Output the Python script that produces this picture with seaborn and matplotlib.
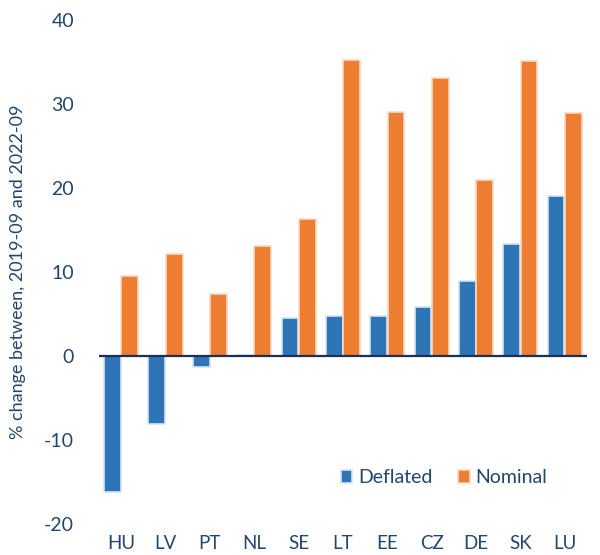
import pandas as pd
import matplotlib
matplotlib.use("Agg")
import matplotlib.pyplot as plt
import seaborn as sns

# % change between 2019-09 and 2022-09
countries = ["HU", "LV", "PT", "NL", "SE", "LT", "EE", "CZ", "DE", "SK", "LU"]
deflated = [-16.2, -8.1, -1.3, 0.1, 4.5, 4.7, 4.8, 5.8, 8.9, 13.3, 19.0]
nominal = [9.5, 12.1, 7.4, 13.1, 16.3, 35.2, 29.0, 33.1, 20.9, 35.1, 28.9]

text_color = "#23466e"
blue = "#2e75b6"
orange = "#ed7d31"

df = pd.DataFrame({
    "country": countries * 2,
    "value": deflated + nominal,
    "series": ["Deflated"] * len(countries) + ["Nominal"] * len(countries),
})

sns.set_style("white")
plt.rcParams["font.family"] = ["Lato", "DejaVu Sans"]
plt.rcParams["axes.unicode_minus"] = False

fig = plt.figure(figsize=(6, 5.55), dpi=100)
ax = fig.add_axes([0.165, 0.056, 0.813, 0.908])

sns.barplot(data=df, x="country", y="value", hue="series",
            palette={"Deflated": blue, "Nominal": orange}, saturation=1,
            width=0.78, gap=0.03, ax=ax, legend=True)

# soft halo edges around the bars
for patch in ax.patches:
    fc = patch.get_facecolor()
    halo = "#d6e4f3" if fc[2] > 0.5 else "#f9d9c2"
    patch.set_edgecolor(halo)
    patch.set_linewidth(1.2)

ax.axhline(0, color="#1c2f5a", linewidth=1.6, zorder=5)

ax.set_ylim(-20, 40)
ax.set_xlim(-0.5, len(countries) - 0.5)
ax.set_yticks(range(-20, 41, 10))
ax.set_xlabel("")
ax.set_ylabel("% change between, 2019-09 and 2022-09", color=text_color,
              fontsize=13, labelpad=13)
ax.tick_params(axis="y", colors=text_color, labelsize=14, length=0, pad=18)
ax.tick_params(axis="x", colors=text_color, labelsize=13.5, length=0, pad=8)
for s in ax.spines.values():
    s.set_visible(False)

leg = ax.legend(loc="lower right", bbox_to_anchor=(0.955, 0.04), ncol=2,
                frameon=False, fontsize=14, handlelength=0.6, handleheight=0.6,
                handletextpad=0.3, columnspacing=1.3)
for t in leg.get_texts():
    t.set_color(text_color)

fig.savefig("out.png", dpi=100)
